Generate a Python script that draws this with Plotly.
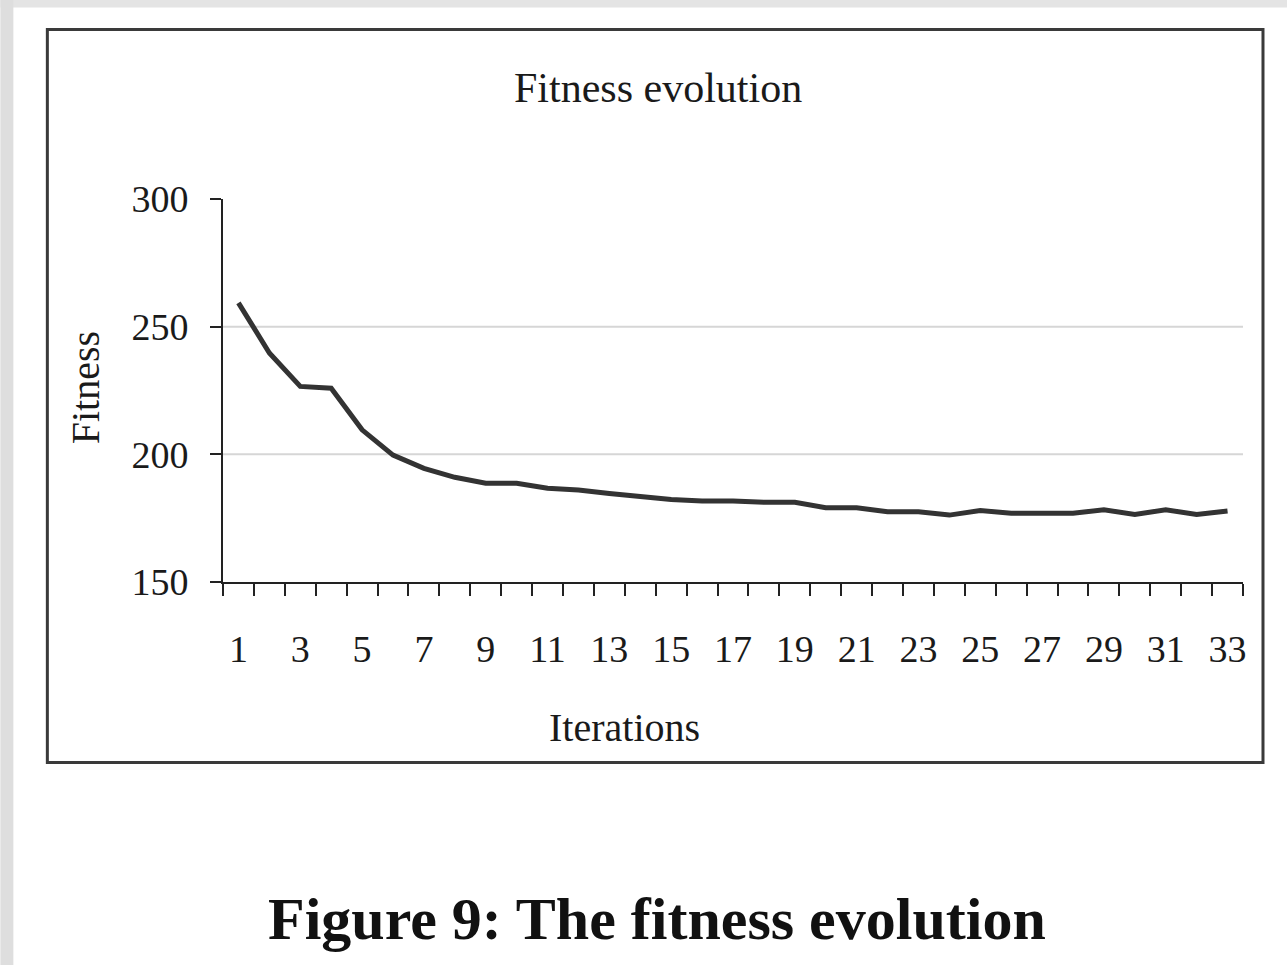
import plotly.graph_objects as go

# ---- data ----
iterations = list(range(1, 34))
fitness = [259.3, 239.7, 226.6, 225.9, 209.6, 199.7, 194.5, 191.0, 188.7, 188.7,
           186.7, 186.0, 184.7, 183.4, 182.3, 181.7, 181.7, 181.2, 181.2, 179.1,
           179.1, 177.5, 177.5, 176.2, 178.0, 176.9, 176.9, 176.9, 178.3, 176.4,
           178.3, 176.4, 177.8]
x_tick_labels = [str(v) for v in iterations if v % 2 == 1]
y_ticks = [150, 200, 250, 300]
grid_values = [200, 250]

W, H = 1287, 965
L, R, T, B = 222.7, 1243.0, 199.3, 581.7
PW, PH = R - L, B - T


def px(x):
    return (x - L) / PW


def py(y):
    return (B - y) / PH


FONT = "Liberation Serif, Times New Roman, serif"
TXT = "#1a1a1a"

fig = go.Figure()
fig.add_trace(go.Scatter(
    x=iterations, y=fitness, mode="lines",
    line=dict(color="#333333", width=5),
    hoverinfo="skip", showlegend=False,
))

shapes = []
# page edge shading
shapes.append(dict(type="rect", xref="paper", yref="paper", x0=px(0), x1=px(W), y0=py(8), y1=py(0),
                   fillcolor="#e4e4e4", line=dict(width=0), layer="below"))
shapes.append(dict(type="rect", xref="paper", yref="paper", x0=px(0), x1=px(13), y0=py(H), y1=py(0),
                   fillcolor="#dedede", line=dict(width=0), layer="below"))
# chart frame
shapes.append(dict(type="rect", xref="paper", yref="paper", x0=px(47), x1=px(1263), y0=py(762), y1=py(30),
                   line=dict(color="#3a3a3a", width=3), fillcolor="rgba(0,0,0,0)", layer="below"))
# gridlines
for g in grid_values:
    shapes.append(dict(type="line", xref="paper", yref="y", x0=0, x1=1, y0=g, y1=g,
                       line=dict(color="#d6d6d6", width=2), layer="below"))

annotations = [
    dict(text="Fitness evolution", xref="paper", yref="paper", x=px(658), y=py(88),
         showarrow=False, xanchor="center", yanchor="middle",
         font=dict(family=FONT, size=42, color=TXT)),
    dict(text="Fitness", xref="paper", yref="paper", x=px(86), y=py(388),
         showarrow=False, xanchor="center", yanchor="middle", textangle=-90,
         font=dict(family=FONT, size=40, color=TXT)),
    dict(text="Iterations", xref="paper", yref="paper", x=px(624), y=py(727),
         showarrow=False, xanchor="center", yanchor="middle",
         font=dict(family=FONT, size=40, color=TXT)),
    dict(text="<b>Figure 9: The fitness evolution</b>", xref="paper", yref="paper", x=px(657), y=py(918),
         showarrow=False, xanchor="center", yanchor="middle",
         font=dict(family=FONT, size=60, color="#111111")),
]

fig.update_layout(
    width=W, height=H,
    margin=dict(l=L, r=W - R, t=T, b=H - B, pad=0),
    paper_bgcolor="white", plot_bgcolor="rgba(0,0,0,0)",
    shapes=shapes, annotations=annotations, showlegend=False,
    xaxis=dict(
        range=[0.5, 33.5], tickmode="array",
        tickvals=[int(t) for t in x_tick_labels], ticktext=x_tick_labels,
        ticks="", showgrid=False, zeroline=False,
        showline=True, linecolor="#222222", linewidth=2,
        ticklabelstandoff=32,
        tickfont=dict(family=FONT, size=38, color=TXT),
        minor=dict(tickmode="array", tickvals=[i + 0.5 for i in range(0, 34)],
                   ticks="outside", ticklen=12, tickwidth=2, tickcolor="#222222", showgrid=False),
    ),
    yaxis=dict(
        range=[150, 300], tickmode="array", tickvals=y_ticks,
        ticks="outside", ticklen=11, tickwidth=2, tickcolor="#222222",
        showgrid=False, zeroline=False,
        showline=True, linecolor="#222222", linewidth=2,
        ticklabelstandoff=14,
        tickfont=dict(family=FONT, size=38, color=TXT),
    ),
)

fig.write_html("out.html", config={"displayModeBar": False, "staticPlot": True},
               post_script="document.body.style.margin='0';document.body.style.overflow='hidden';")
